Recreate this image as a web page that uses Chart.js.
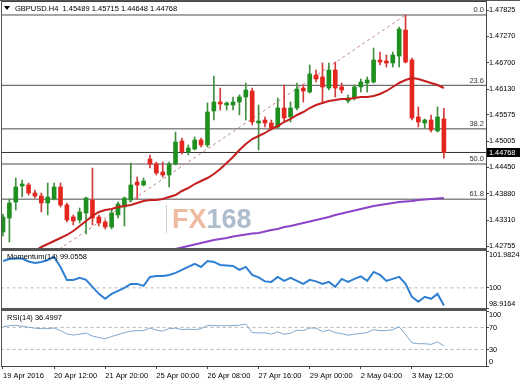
<!DOCTYPE html>
<html><head><meta charset="utf-8">
<script src="https://cdn.jsdelivr.net/npm/chart.js@4.4.1/dist/chart.umd.min.js"></script>
<style>
html,body{margin:0;padding:0;background:#fff;}
#wrap{position:relative;width:520px;height:384px;overflow:hidden;background:#fff;}
canvas{position:absolute;left:0;}
.sep{position:absolute;left:1px;width:486px;height:3px;background:#555;}
</style></head><body>
<div id="wrap">
<canvas id="main" width="520" height="250" style="top:0;width:520px;height:250px"></canvas>
<canvas id="mom" width="520" height="60" style="top:250px;width:520px;height:60px"></canvas>
<canvas id="rsi" width="520" height="74" style="top:310px;width:520px;height:74px"></canvas>
<div class="sep" style="top:248px"></div>
<div class="sep" style="top:308px"></div>
</div>
<script>
// ---------------- DATA ----------------
const symbol = 'GBPUSD.H4';
const xTickLabels = ['19 Apr 2016','20 Apr 12:00','21 Apr 20:00','25 Apr 00:00','26 Apr 08:00','27 Apr 16:00','29 Apr 00:00','2 May 04:00','3 May 12:00'];
const xTickBars = [0,8,16,24,32,40,48,56,64];

const openP = [1.43058,1.43359,1.43703,1.44047,1.44069,1.43897,1.43832,1.43682,1.43768,1.44026,
1.43639,1.43381,1.43316,1.43467,1.43746,1.43381,1.43273,1.43166,1.43424,1.43596,
1.43746,1.44133,1.44069,1.44628,1.44520,1.44348,1.44284,1.44520,1.45015,1.44778,
1.44843,1.45036,1.44929,1.45660,1.45853,1.45789,1.45789,1.45853,1.45961,1.46090,
1.45402,1.45466,1.45402,1.45316,1.45724,1.45531,1.45724,1.46154,1.46068,1.46434,
1.46391,1.46154,1.46541,1.46176,1.45875,1.45939,1.46176,1.46262,1.46283,1.46756,
1.46735,1.46692,1.46842,1.47401,1.46756,1.45531,1.45402,1.45466,1.45230,1.45489];
const highP = [1.43445,1.43768,1.44219,1.44176,1.44112,1.43961,1.43897,1.44112,1.44112,1.44112,
1.43682,1.43424,1.43574,1.43811,1.44434,1.43424,1.43316,1.43531,1.43703,1.43811,
1.44542,1.44241,1.44219,1.44714,1.44563,1.44563,1.44563,1.45208,1.45079,1.44929,
1.45101,1.45079,1.45832,1.46412,1.46154,1.45853,1.45961,1.46004,1.46262,1.46154,
1.45789,1.45531,1.45466,1.45939,1.46219,1.45853,1.46262,1.46219,1.46649,1.46541,
1.46692,1.46692,1.46713,1.46262,1.46004,1.46219,1.46348,1.46391,1.47014,1.46928,
1.46864,1.46928,1.47466,1.47724,1.46799,1.45746,1.45488,1.45574,1.45746,1.45715];
const lowP = [1.42972,1.42843,1.43531,1.43811,1.43854,1.43789,1.43488,1.43424,1.43746,1.43596,
1.43273,1.43209,1.43252,1.43015,1.43209,1.43187,1.43123,1.43123,1.43359,1.43187,
1.43703,1.43768,1.44047,1.44434,1.44284,1.44241,1.44026,1.44499,1.44735,1.44714,
1.44821,1.44886,1.44886,1.45466,1.45681,1.45681,1.45681,1.45574,1.45466,1.45359,
1.44821,1.45316,1.45251,1.45294,1.45423,1.45423,1.45681,1.45853,1.46047,1.46283,
1.45832,1.46111,1.45961,1.46047,1.45832,1.45896,1.46068,1.46068,1.46262,1.46649,
1.46606,1.46606,1.46606,1.46692,1.45466,1.45316,1.45294,1.45208,1.45208,1.44648];
const closeP = [1.43381,1.43682,1.44026,1.44090,1.43897,1.43832,1.43682,1.43811,1.44026,1.43639,
1.43316,1.43295,1.43488,1.43789,1.43359,1.43252,1.43166,1.43467,1.43660,1.43789,
1.44069,1.44069,1.44155,1.44520,1.44327,1.44284,1.44520,1.44993,1.44778,1.44864,
1.45036,1.44929,1.45638,1.45853,1.45810,1.45832,1.45853,1.45961,1.46111,1.45423,
1.45445,1.45402,1.45294,1.45724,1.45509,1.45724,1.46133,1.46090,1.46455,1.46348,
1.46176,1.46541,1.46154,1.46111,1.45939,1.46176,1.46283,1.46326,1.46756,1.46713,
1.46692,1.46864,1.47423,1.46713,1.45509,1.45423,1.45466,1.45251,1.45531,1.44768];

const maRed = [null,null,null,null,null,
1.42650,1.42736,1.42800,1.42865,1.42929,1.42994,1.43080,1.43187,1.43295,1.43402,
1.43488,1.43531,1.43553,1.43596,1.43617,1.43639,1.43682,1.43725,1.43746,1.43746,
1.43768,1.43811,1.43854,1.43940,1.44004,1.44090,1.44155,1.44219,1.44305,1.44413,
1.44542,1.44671,1.44821,1.44950,1.45058,1.45122,1.45187,1.45273,1.45337,1.45423,
1.45488,1.45574,1.45638,1.45724,1.45789,1.45832,1.45875,1.45896,1.45918,1.45918,
1.45939,1.45961,1.45961,1.45982,1.46025,1.46090,1.46176,1.46262,1.46326,1.46369,
1.46348,1.46305,1.46262,1.46219,1.46154];
const maPurple = [null,null,null,null,null,null,null,null,null,null,
null,null,null,null,null,null,null,null,null,null,null,null,null,null,null,null,
1.42661,1.42693,1.42725,1.42757,1.42789,1.42822,1.42854,1.42886,1.42908,1.42929,
1.42961,1.42983,1.43004,1.43026,1.43037,1.43069,1.43101,1.43123,1.43166,1.43187,
1.43219,1.43252,1.43284,1.43316,1.43348,1.43381,1.43424,1.43456,1.43488,1.43520,
1.43553,1.43585,1.43617,1.43639,1.43660,1.43682,1.43703,1.43714,1.43725,1.43746,
1.43757,1.43768,1.43778,1.43789];

const momentum = [101.447,101.554,101.580,101.580,101.420,101.339,101.393,101.500,101.661,101.125,
100.428,100.428,100.536,100.428,100.053,99.678,99.410,99.678,99.839,100.000,
100.214,100.214,100.107,100.589,100.643,100.643,100.696,100.803,100.964,101.125,
101.286,101.125,101.447,101.393,101.232,101.205,101.179,100.964,101.125,100.696,
100.562,100.348,100.321,100.589,100.375,100.536,100.375,100.214,100.428,100.348,
100.214,100.321,100.053,100.482,100.321,100.482,100.616,100.375,100.857,100.696,
100.375,100.482,100.589,100.214,99.517,99.249,99.517,99.410,99.678,99.0558];
const rsi = [71.4,73.2,73.7,72.3,70.5,68.8,67.9,67.9,69.1,64.3,
58.4,56.3,58.0,59.8,54.5,51.8,49.5,53.6,57.1,60.7,
63.4,64.3,64.3,69.1,65.2,63.4,67.9,68.8,66.1,67.0,
66.1,67.9,73.7,73.4,73.2,73.2,73.5,74.1,76.3,60.7,
60.2,60.2,58.0,62.0,57.7,59.6,65.2,64.3,69.1,68.8,
62.5,65.5,60.7,58.9,55.9,58.0,59.3,60.7,66.1,64.3,
64.3,66.1,71.4,57.1,42.3,40.5,40.5,39.3,44.1,36.4997];

const priceTicks = [1.47825,1.47270,1.46700,1.46130,1.45575,1.45005,1.44450,1.43880,1.43310,1.42755];
const fibPrices = [1.47724,1.46212,1.45276,1.44520,1.43764];
const fibLabels = ['0.0','23.6','38.2','50.0','61.8'];
const trendBars = [-6, 63];
const trendPrices = [1.41316, 1.47724];
const momTicks = [101.9824, 100, 98.9164];
const momTickLabels = ['101.9824','100','98.9164'];
const momLevels = [100];
const rsiTicks = [100, 70, 30, 0];
const rsiTickLabels = ['100','70','30','0'];
const rsiLevels = [70, 30];

// ---------------- VIEW ----------------
const X_MIN = -0.313, X_MAX = 75.59;
const P_MIN = 1.42714, P_MAX = 1.48025;
const FAM = "'Liberation Sans', Arial, sans-serif";
const FONT = "7.5px " + FAM;
Chart.defaults.font.family = FAM;
Chart.defaults.font.size = 7.5;
Chart.defaults.color = '#000';
Chart.defaults.animation = false;

const N = closeP.length;
const idx = [...Array(N).keys()];
const up = idx.map(i => closeP[i] >= openP[i]);
const pts = arr => arr.map((v, i) => ({x: i, y: v}));
const hLine = (y, color, dash, order) => ({
  type: 'line', data: [{x: X_MIN - 1, y}, {x: X_MAX + 1, y}],
  borderColor: color, borderWidth: 1, borderDash: dash || [], pointRadius: 0, order
});

function yAxis(min, max, vals, labels) {
  return {
    position: 'right', min, max,
    afterBuildTicks: s => { s.ticks = vals.map(v => ({value: v})); },
    afterFit: s => { s.width = 34; s.paddingTop = 0; s.paddingBottom = 0; },
    ticks: {
      padding: 0, color: '#000', autoSkip: false, font: {size: 7.3},
      callback: (v, i) => {
        const t = labels[i];
        if (Math.abs(v - max) < 1e-9) return ['', t];
        if (Math.abs(v - min) < 1e-9) return [t, ''];
        return t;
      }
    },
    grid: {drawOnChartArea: false, drawTicks: true, tickLength: 3, color: '#444'},
    border: {display: true, color: '#444'}
  };
}
const hiddenX = {type: 'linear', min: X_MIN, max: X_MAX, display: false, offset: false};

const leftFrame = {
  id: 'leftFrame',
  afterDraw(chart) {
    const {ctx, chartArea: a} = chart;
    ctx.save(); ctx.strokeStyle = '#555'; ctx.lineWidth = 1;
    ctx.beginPath(); ctx.moveTo(a.left + 0.5, 0); ctx.lineTo(a.left + 0.5, a.bottom);
    ctx.stroke(); ctx.restore();
  }
};

// ---------------- MAIN PRICE PANEL ----------------
new Chart(document.getElementById('main'), {
  type: 'bar',
  data: {
    datasets: [
      ...fibPrices.map(p => hLine(p, '#4d4d4d', [], 10)),
      hLine(closeP[N - 1], '#333', [], 10),
      {type: 'line', data: trendBars.map((b, k) => ({x: b, y: trendPrices[k]})),
       borderColor: '#bf8a8a', borderWidth: 1, borderDash: [3, 3], pointRadius: 0, order: 9},
      {type: 'bar', data: idx.map(i => ({x: i, y: [lowP[i], highP[i]]})),
       backgroundColor: idx.map(i => up[i] ? '#3f8f3f' : '#d23a3a'),
       barThickness: 1, maxBarThickness: 1, grouped: false, borderWidth: 0, order: 3},
      {type: 'bar', data: idx.map(i => ({x: i, y: [openP[i], closeP[i]]})),
       backgroundColor: idx.map(i => up[i] ? '#1f8f1f' : '#e3261e'),
       barThickness: 4, maxBarThickness: 4, minBarLength: 1, grouped: false, borderWidth: 0, order: 2},
      {type: 'line', data: pts(maRed), borderColor: '#c41e1e', borderWidth: 2, pointRadius: 0, order: 1},
      {type: 'line', data: pts(maPurple), borderColor: '#8d43c6', borderWidth: 2, pointRadius: 0, order: 1}
    ]
  },
  options: {
    responsive: false, events: [],
    layout: {padding: {left: 1, top: 1, right: 0, bottom: 2}},
    plugins: {legend: {display: false}, tooltip: {enabled: false}},
    scales: {x: hiddenX, y: yAxis(P_MIN, P_MAX, priceTicks, priceTicks.map(v => v.toFixed(5)))}
  },
  plugins: [leftFrame, {
    id: 'decor',
    beforeDatasetsDraw(chart) {
      const {ctx, chartArea: a} = chart;
      ctx.save();
      ctx.strokeStyle = '#d0d0d0'; ctx.lineWidth = 1;
      ctx.beginPath(); ctx.moveTo(a.left + 165.5, 205); ctx.lineTo(a.left + 165.5, 233); ctx.stroke();
      ctx.font = "bold 27px " + FAM; ctx.textBaseline = 'alphabetic'; ctx.textAlign = 'left';
      ctx.fillStyle = '#efbba0'; ctx.fillText('FX', a.left + 171, 228);
      const w = ctx.measureText('FX').width;
      ctx.fillStyle = '#aebdcc'; ctx.fillText('168', a.left + 171 + w, 228);
      ctx.restore();
    },
    afterDatasetsDraw(chart) {
      const {ctx, chartArea: a, scales: {y}} = chart;
      ctx.save(); ctx.font = FONT; ctx.fillStyle = '#333';
      ctx.textAlign = 'right'; ctx.textBaseline = 'bottom';
      fibPrices.forEach((p, k) => ctx.fillText(fibLabels[k], a.right - 2, y.getPixelForValue(p) - 1));
      ctx.restore();
    },
    afterDraw(chart) {
      const {ctx, chartArea: a, scales: {y}} = chart;
      ctx.save();
      ctx.strokeStyle = '#555'; ctx.beginPath(); ctx.moveTo(0, 0.5); ctx.lineTo(520, 0.5); ctx.stroke();
      ctx.strokeStyle = '#444'; ctx.beginPath(); ctx.moveTo(a.left, a.top + 0.5); ctx.lineTo(a.right, a.top + 0.5); ctx.stroke();
      // title
      ctx.fillStyle = '#000';
      ctx.beginPath(); ctx.moveTo(4, 6); ctx.lineTo(10, 6); ctx.lineTo(7, 10); ctx.closePath(); ctx.fill();
      ctx.font = FONT; ctx.textBaseline = 'middle'; ctx.textAlign = 'left';
      const t = symbol + '  ' + [openP[N-1], highP[N-1], lowP[N-1], closeP[N-1]].map(v => v.toFixed(5)).join(' ');
      ctx.fillText(t, 15, 8.5);
      // current price tag
      const py = Math.round(y.getPixelForValue(closeP[N - 1]));
      ctx.fillStyle = '#000'; ctx.fillRect(a.right + 1, py - 4, chart.width - a.right - 1, 9);
      ctx.fillStyle = '#fff'; ctx.font = "7.3px " + FAM;
      ctx.fillText(closeP[N - 1].toFixed(5), a.right + 3, py + 0.5);
      ctx.restore();
    }
  }]
});

// ---------------- MOMENTUM PANEL ----------------
new Chart(document.getElementById('mom'), {
  type: 'line',
  data: {
    datasets: [
      ...momLevels.map(v => hLine(v, '#b8b8b8', [3, 3], 5)),
      {data: pts(momentum), borderColor: '#2f80d2', borderWidth: 2, pointRadius: 0, order: 1}
    ]
  },
  options: {
    responsive: false, events: [],
    layout: {padding: {left: 1, top: 1, right: 0, bottom: 2}},
    plugins: {legend: {display: false}, tooltip: {enabled: false}},
    scales: {x: hiddenX, y: yAxis(momTicks[2], momTicks[0], momTicks, momTickLabels)}
  },
  plugins: [leftFrame, {
    id: 'momLabel',
    afterDraw(chart) {
      const {ctx, chartArea: a} = chart;
      ctx.save(); ctx.font = FONT; ctx.fillStyle = '#000'; ctx.textBaseline = 'middle';
      ctx.fillText('Momentum(14) ' + momentum[N - 1].toFixed(4), a.left + 6, a.top + 6);
      ctx.restore();
    }
  }]
});

// ---------------- RSI PANEL ----------------
new Chart(document.getElementById('rsi'), {
  type: 'line',
  data: {
    datasets: [
      ...rsiLevels.map(v => hLine(v, '#b8b8b8', [3, 3], 5)),
      {data: pts(rsi), borderColor: '#7ea6cc', borderWidth: 1, pointRadius: 0, order: 1}
    ]
  },
  options: {
    responsive: false, events: [],
    layout: {padding: {left: 1, top: 1, right: 0, bottom: 0}},
    plugins: {legend: {display: false}, tooltip: {enabled: false}},
    scales: {
      x: {
        type: 'linear', min: X_MIN, max: X_MAX, offset: false, position: 'bottom',
        afterBuildTicks: s => { s.ticks = xTickBars.map(v => ({value: v})); },
        afterFit: s => { s.height = 18; s.paddingLeft = 0; s.paddingRight = 0; },
        ticks: {align: 'start', autoSkip: false, maxRotation: 0, minRotation: 0, padding: 2, color: '#000',
                callback: (v, i) => xTickLabels[i]},
        grid: {drawOnChartArea: false, drawTicks: true, tickLength: 3, color: '#444', offset: false},
        border: {display: true, color: '#444'}
      },
      y: yAxis(0, 100, rsiTicks, rsiTickLabels)
    }
  },
  plugins: [leftFrame, {
    id: 'rsiLabel',
    afterDraw(chart) {
      const {ctx, chartArea: a} = chart;
      ctx.save(); ctx.font = FONT; ctx.fillStyle = '#000'; ctx.textBaseline = 'middle';
      ctx.fillText('RSI(14) ' + rsi[N - 1].toFixed(4), a.left + 6, a.top + 7);
      ctx.restore();
    }
  }]
});
</script>
</body></html>
